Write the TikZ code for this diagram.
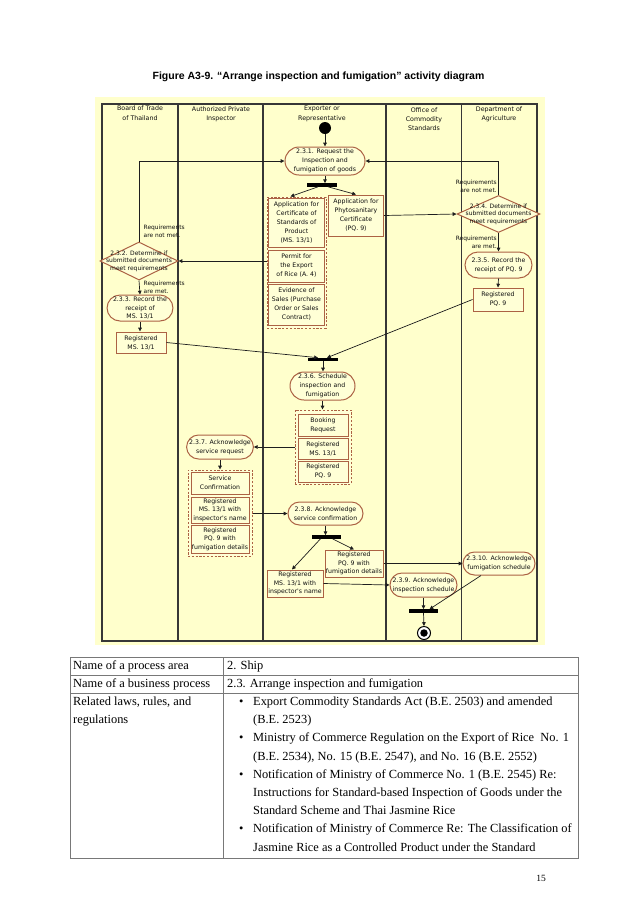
\documentclass[tikz,border=0pt]{standalone}
\usepackage{fontspec}
\setmainfont{Liberation Serif}
\newfontfamily\diagfont{DejaVu Sans}
\newfontfamily\capfont{Liberation Sans}
\usetikzlibrary{shapes.geometric,shapes.misc,arrows.meta}
\definecolor{bg}{RGB}{255,255,204}
\definecolor{nfill}{RGB}{255,255,214}
\definecolor{brd}{RGB}{172,98,68}
\definecolor{lanec}{RGB}{55,55,55}
\definecolor{txt}{RGB}{15,15,15}
\definecolor{arrc}{RGB}{30,30,30}
\definecolor{tblc}{RGB}{120,120,120}
\begin{document}
\begin{tikzpicture}[x=1pt,y=-1pt,
  dg/.style={font=\diagfont\fontsize{6.2}{9}\selectfont, text=txt, align=center},
  act/.style={dg, rounded rectangle, draw=brd, line width=1pt, fill=nfill, inner sep=0pt},
  doc/.style={dg, rectangle, draw=brd, line width=1pt, fill=nfill, inner sep=0pt},
  grp/.style={rectangle, draw=brd, line width=1pt, dash pattern=on 2.2pt off 1.6pt, fill=nfill, inner sep=0pt},
  dec/.style={diamond, draw=brd, line width=1pt, fill=nfill, inner sep=0pt},
  dectxt/.style={font=\diagfont\fontsize{6}{7.6}\selectfont, text=txt, align=center},
  bar/.style={rectangle, fill=black, inner sep=0pt, minimum height=3.2pt},
  lbl/.style={font=\diagfont\fontsize{5.9}{7.8}\selectfont, text=txt, inner sep=0pt},
  hdr/.style={font=\diagfont\fontsize{6.3}{9.3}\selectfont, text=txt, align=center},
  arr/.style={draw=arrc, line width=0.7pt, -{Triangle[length=3.8pt,width=3.6pt]}},
  lanel/.style={draw=lanec, line width=1.2pt},
  tblline/.style={draw=tblc, line width=0.8pt},
  tx/.style={font=\fontsize{12.4}{15}\selectfont, anchor=west, inner sep=0pt, text height=9pt, text depth=3pt}
]
\useasboundingbox[fill=white] (0,0) rectangle (638,903);

% title
\node[font=\capfont\bfseries\fontsize{10.5}{12}\selectfont] (title) at (318.5,77) {Figure A3-9. “Arrange inspection and fumigation” activity diagram};

% background and lanes
\fill[bg] (95,97) rectangle (545,645);
\draw[lanel] (102,104) rectangle (537,641);
\foreach \lx in {178,263,386,461.5} \draw[lanel] (\lx,104) -- (\lx,641);

% lane headers
\node[hdr] (h1) at (140,113) {Board of Trade\\of Thailand};
\node[hdr] (h2) at (221,114) {Authorized Private\\Inspector};
\node[hdr] (h3) at (322,114) {Exporter or\\Representative};
\node[hdr] (h4) at (424,119) {Office of\\Commodity\\Standards};
\node[hdr] (h5) at (499,114) {Department of\\Agriculture};

% start
\node[circle, fill=black, inner sep=0pt, minimum size=12pt] (start) at (325,128) {};

% exporter top
\node[act, minimum width=80pt, minimum height=28pt] (a231) at (325,161) {2.3.1. Request the\\Inspection and\\fumigation of goods};
\node[bar, minimum width=30pt] (fork1) at (322,185) {};

\node[grp, minimum width=59pt, minimum height=131pt] (g1) at (296.5,262.5) {};
\node[doc, minimum width=56pt, minimum height=49pt] (b1) at (296.5,222.5) {Application for\\Certificate of\\Standards of\\Product\\(MS. 13/1)};
\node[doc, minimum width=56pt, minimum height=32pt] (b2) at (296.5,266) {Permit for\\the Export\\of Rice (A. 4)};
\node[doc, minimum width=56pt, minimum height=41pt] (b3) at (296.5,304.5) {Evidence of\\Sales (Purchase\\Order or Sales\\Contract)};
\node[doc, minimum width=55pt, minimum height=41pt] (phyto) at (356,215.5) {Application for\\Phytosanitary\\Certificate\\(PQ. 9)};

% department of agriculture
\node[dec, minimum width=83pt, minimum height=37pt] (d234) at (498.5,214) {};
\node[dectxt] (d234t) at (d234) {2.3.4. Determine if\\submitted documents\\meet requirements};
\node[act, minimum width=67pt, minimum height=26pt] (a235) at (498.5,265) {2.3.5. Record the\\receipt of PQ. 9};
\node[doc, minimum width=50pt, minimum height=23pt] (rpq) at (498,299.5) {Registered\\PQ. 9};
\node[lbl, align=right, anchor=east] (l1) at (497,186) {Requirements\\are not met.};
\node[lbl, align=right, anchor=east] (l2) at (497,242) {Requirements\\are met.};

% board of trade
\node[dec, minimum width=78pt, minimum height=38pt] (d232) at (139,261) {};
\node[dectxt] (d232t) at (d232) {2.3.2. Determine if\\submitted documents\\meet requirements};
\node[act, minimum width=62pt, minimum height=26pt, font=\diagfont\fontsize{6.2}{8.3}\selectfont] (a233) at (140,308) {2.3.3. Record the\\receipt of\\MS. 13/1};
\node[doc, minimum width=50pt, minimum height=21pt] (rms) at (141,342.5) {Registered\\MS. 13/1};
\node[lbl, align=left, anchor=west] (l3) at (143.5,231.5) {Requirements\\are not met.};
\node[lbl, align=left, anchor=west] (l4) at (143.5,287) {Requirements\\are met.};

% schedule
\node[bar, minimum width=30pt] (join1) at (323,359.5) {};
\node[act, minimum width=65pt, minimum height=28pt] (a236) at (322.5,386) {2.3.6. Schedule\\inspection and\\fumigation};
\node[grp, minimum width=56pt, minimum height=74pt] (g2) at (323,447) {};
\node[doc, minimum width=50pt, minimum height=22pt] (c1) at (323,425) {Booking\\Request};
\node[doc, minimum width=50pt, minimum height=21pt] (c2) at (323,448.5) {Registered\\MS. 13/1};
\node[doc, minimum width=50pt, minimum height=21pt] (c3) at (323,471.5) {Registered\\PQ. 9};

% inspector
\node[act, minimum width=64pt, minimum height=24pt] (a237) at (220,447) {2.3.7. Acknowledge\\service request};
\node[grp, minimum width=64pt, minimum height=86pt] (g3) at (220,513) {};
\node[doc, minimum width=58pt, minimum height=22pt] (e1) at (220,483) {Service\\Confirmation};
\node[doc, minimum width=58pt, minimum height=26pt, font=\diagfont\fontsize{6.2}{8.4}\selectfont] (e2) at (220,510) {Registered\\MS. 13/1 with\\inspector's name};
\node[doc, minimum width=58pt, minimum height=28pt, font=\diagfont\fontsize{6.2}{8.6}\selectfont] (e3) at (220,539) {Registered\\PQ. 9 with\\fumigation details};

% confirmation
\node[act, minimum width=75pt, minimum height=23pt] (a238) at (325.5,513.5) {2.3.8. Acknowledge\\service confirmation};
\node[bar, minimum width=29pt] (fork2) at (326.5,537) {};
\node[doc, minimum width=58pt, minimum height=27pt, font=\diagfont\fontsize{6.2}{8.6}\selectfont] (fpq) at (354,563.5) {Registered\\PQ. 9 with\\fumigation details};
\node[doc, minimum width=56pt, minimum height=27pt, font=\diagfont\fontsize{6.2}{8.6}\selectfont] (fms) at (295,583.5) {Registered\\MS. 13/1 with\\inspector's name};
\node[act, minimum width=72pt, minimum height=23pt] (a2310) at (499,563.5) {2.3.10. Acknowledge\\fumigation schedule};
\node[act, minimum width=67pt, minimum height=24pt] (a239) at (423.5,585) {2.3.9. Acknowledge\\inspection schedule};
\node[bar, minimum width=29pt] (join2) at (423.5,611) {};
\node[circle, draw=black, line width=1pt, fill=white, inner sep=0pt, minimum size=13pt] (endo) at (424,633) {};
\node[circle, fill=black, inner sep=0pt, minimum size=7.5pt] (endi) at (endo) {};

% connectors
\draw[arr] (start.south) -- (a231.north);
\draw[arr] (a231.south) -- (a231.south |- fork1.north);
\draw[arr] ([xshift=-4]fork1.south) -- ([xshift=-6]g1.north);
\draw[arr] ([xshift=6]fork1.south) -- (phyto.north);
\draw[arr] (phyto.east) -- (d234.west);
\draw[arr] (d234.north) |- (a231.east);
\draw[arr] (d234.south) -- (a235.north);
\draw[arr] (a235.south) -- (rpq.north);
\draw[arr] (rpq.west) -- ([xshift=4]join1.north);
\draw[arr] (g1.west |- d232.east) -- (d232.east);
\draw[arr] (d232.north) |- (a231.west);
\draw[arr] (d232.south) -- (a233.north);
\draw[arr] (a233.south) -- (a233.south |- rms.north);
\draw[arr] (rms.east) -- ([xshift=-5]join1.north);
\draw[arr] (join1.south) -- (join1.south |- a236.north);
\draw[arr] (a236.south) -- (a236.south |- g2.north);
\draw[arr] (g2.west |- a237.east) -- (a237.east);
\draw[arr] (a237.south) -- (g3.north);
\draw[arr] (g3.east |- a238.west) -- (a238.west);
\draw[arr] (a238.south) -- (a238.south |- fork2.north);
\draw[arr] ([xshift=-6]fork2.south) -- ([xshift=-3]fms.north);
\draw[arr] ([xshift=6]fork2.south) -- (fpq.north);
\draw[arr] (fpq.east) -- (fpq.east -| a2310.west);
\draw[arr] (fms.east) -- (a239.west);
\draw[arr] (a239.south) -- (a239.south |- join2.north);
\draw[arr] ([xshift=-18]a2310.south) -- ([xshift=6]join2.north);
\draw[arr] (join2.south) -- (endo.north);

% table
\draw[tblline] (70,657) rectangle (578,858);
\draw[tblline] (70,675.5) -- (578,675.5);
\draw[tblline] (70,693.5) -- (578,693.5);
\draw[tblline] (223,657) -- (223,858);
\node[tx] (r1a) at (73,666) {Name of a process area};
\node[tx] (r1b) at (227,666) {2. Ship};
\node[tx] (r2a) at (73,684.5) {Name of a business process};
\node[tx] (r2b) at (227,684.5) {2.3. Arrange inspection and fumigation};
\node[tx] (r3a) at (73,702.5) {Related laws, rules, and};
\node[tx] (r3b) at (73,720.7) {regulations};
\node[tx] (bu1) at (239,702.5) {•};
\node[tx] (bu2) at (239,738.9) {•};
\node[tx] (bu3) at (239,775.3) {•};
\node[tx] (bu4) at (239,829.9) {•};
\node[tx] (q1) at (253,702.5) {Export Commodity Standards Act (B.E. 2503) and amended};
\node[tx] (q2) at (253,720.7) {(B.E. 2523)};
\node[tx] (q3) at (253,738.9) {Ministry of Commerce Regulation on the Export of Rice\ \ No. 1};
\node[tx] (q4) at (253,757.1) {(B.E. 2534), No. 15 (B.E. 2547), and No. 16 (B.E. 2552)};
\node[tx] (q5) at (253,775.3) {Notification of Ministry of Commerce No. 1 (B.E. 2545) Re:};
\node[tx] (q6) at (253,793.5) {Instructions for Standard-based Inspection of Goods under the};
\node[tx] (q7) at (253,811.7) {Standard Scheme and Thai Jasmine Rice};
\node[tx] (q8) at (253,829.9) {Notification of Ministry of Commerce Re: The Classification of};
\node[tx] (q9) at (253,848.1) {Jasmine Rice as a Controlled Product under the Standard};

\node[font=\fontsize{9.5}{11}\selectfont] (pg) at (541,878) {15};
\end{tikzpicture}
\end{document}
